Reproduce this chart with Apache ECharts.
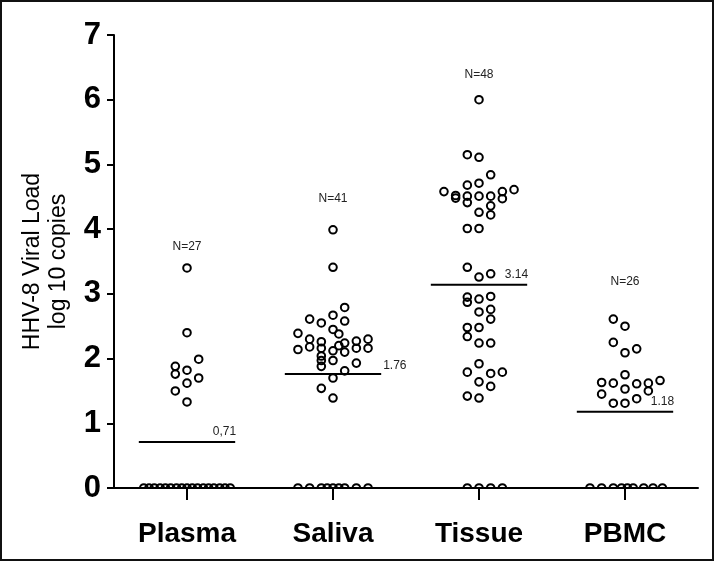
<!DOCTYPE html>
<html>
<head>
<meta charset="utf-8">
<script src="https://cdn.jsdelivr.net/npm/echarts@6/dist/echarts.min.js"></script>
<style>
html,body{margin:0;padding:0;background:#fff;}
#chart{width:716px;height:562px;}
</style>
</head>
<body>
<div id="chart"></div>
<script>
// ---- data ----
const categories = ['Plasma', 'Saliva', 'Tissue', 'PBMC'];
const groupN = [27, 41, 48, 26];
const nLabelY = [3.73, 4.47, 6.39, 3.19];
const medians = [0.71, 1.76, 3.14, 1.18];
const medianText = ['0,71', '1.76', '3.14', '1.18'];
const yTicks = [0, 1, 2, 3, 4, 5, 6, 7];

// each point: [log10 copies, beeswarm slot]
const plasma = [
  [3.40, 0], [2.40, 0], [1.99, 1], [1.88, -1], [1.82, 0], [1.76, -1], [1.70, 1], [1.62, 0], [1.50, -1], [1.33, 0],
  [0, -3.7], [0, -3.25], [0, -2.8], [0, -2.3], [0, -1.85], [0, -1.4], [0, -0.9], [0, -0.45], [0, 0],
  [0, 0.45], [0, 0.9], [0, 1.4], [0, 1.85], [0, 2.3], [0, 2.8], [0, 3.25], [0, 3.7]
];
const saliva = [
  [3.99, 0], [3.41, 0], [2.79, 1], [2.67, 0], [2.61, -2], [2.58, 1], [2.55, -1], [2.45, 0], [2.39, -3], [2.38, 0.5],
  [2.30, -2], [2.26, -1], [2.24, 1], [2.27, 2], [2.30, 3],
  [2.18, -2], [2.16, -1], [2.20, 0.5], [2.16, 2], [2.16, 3],
  [2.14, -3], [2.12, 0], [2.10, 1], [2.04, -1], [1.97, -1], [1.97, 0], [1.93, 2], [1.81, 1], [1.88, -1], [1.70, 0], [1.54, -1], [1.39, 0],
  [0, -3], [0, -2], [0, -1], [0, -0.5], [0, 0], [0, 0.5], [0, 1], [0, 2], [0, 3]
];
const tissue = [
  [6.00, 0], [5.15, -1], [5.11, 0], [4.84, 1], [4.68, -1], [4.71, 0], [4.58, -3], [4.61, 3], [4.52, -2], [4.48, -2],
  [4.51, -1], [4.41, -1], [4.51, 0], [4.51, 1], [4.36, 1], [4.22, 1], [4.58, 2], [4.47, 2], [4.26, 0], [4.01, -1],
  [4.01, 0], [3.41, -1], [3.26, 0], [3.31, 1],
  [2.95, -1], [2.87, -1], [2.92, 0], [2.96, 1], [2.72, 0], [2.76, 1], [2.61, 1], [2.48, -1], [2.48, 0], [2.34, -1],
  [2.24, 0], [2.24, 1], [1.92, 0], [1.79, -1], [1.77, 1], [1.79, 2], [1.64, 0], [1.57, 1], [1.42, -1], [1.39, 0],
  [0, -1], [0, 0], [0, 1], [0, 2]
];
const pbmc = [
  [2.61, -1], [2.50, 0], [2.25, -1], [2.09, 0], [2.15, 1], [1.75, 0], [1.63, -2], [1.62, -1], [1.53, 0], [1.61, 1],
  [1.62, 2], [1.50, 2], [1.66, 3], [1.45, -2], [1.38, 1], [1.31, -1], [1.31, 0],
  [0, -3], [0, -2], [0, -1], [0, -0.3], [0, 0.2], [0, 0.7], [0, 1.6], [0, 2.4], [0, 3.2]
];
const groups = [plasma, saliva, tissue, pbmc];

// ---- layout / style ----
const SLOT = 0.08;           // width of one beeswarm slot in category units
const HALF_LINE = 0.33;      // half width of the median bar in category units
const R = 3.8;               // marker radius
const medianLabelPlace = ['above', 'right', 'above', 'above'];
const FONT = 'Liberation Sans, Arial, sans-serif';
const NARROW = 'Liberation Sans Narrow, Liberation Sans, Arial, sans-serif';

const chart = echarts.init(document.getElementById('chart'), null, { renderer: 'canvas' });

const pointSeries = groups.map((g, gi) => ({
  type: 'custom',
  name: categories[gi],
  xAxisIndex: 1,
  yAxisIndex: 0,
  z: 3,
  data: g.map(p => [gi + p[1] * SLOT, p[0]]),
  renderItem: (params, api) => {
    const c = api.coord([api.value(0), api.value(1)]);
    const bottom = params.coordSys.y + params.coordSys.height;
    const d = bottom - c[1];
    const style = { fill: 'none', stroke: '#000', lineWidth: 2 };
    if (d < R) {
      // part of the marker falls below the plot area: draw only what is inside
      const a = Math.asin(Math.max(-1, Math.min(1, d / R)));
      return {
        type: 'arc',
        shape: { cx: c[0], cy: c[1], r: R, startAngle: Math.PI - a, endAngle: 2 * Math.PI + a, clockwise: true },
        style: style
      };
    }
    return { type: 'circle', shape: { cx: c[0], cy: c[1], r: R }, style: style };
  }
}));

const medianSeries = {
  type: 'custom',
  xAxisIndex: 1,
  yAxisIndex: 0,
  z: 4,
  data: medians.map((m, i) => [i, m]),
  renderItem: (params, api) => {
    const i = params.dataIndex;
    const x = api.value(0), y = api.value(1);
    const a = api.coord([x - HALF_LINE, y]);
    const b = api.coord([x + HALF_LINE, y]);
    const right = medianLabelPlace[i] === 'right';
    return {
      type: 'group',
      children: [
        { type: 'line', shape: { x1: a[0], y1: a[1], x2: b[0], y2: b[1] }, style: { stroke: '#000', lineWidth: 2 } },
        {
          type: 'text',
          x: right ? b[0] + 2 : b[0] + 1,
          y: right ? b[1] - 8 : b[1] - 10,
          style: {
            text: medianText[i], fill: '#222', font: '12px ' + NARROW,
            align: right ? 'left' : 'right', verticalAlign: 'middle'
          }
        }
      ]
    };
  }
};

const nSeries = {
  type: 'custom',
  xAxisIndex: 1,
  yAxisIndex: 0,
  z: 4,
  data: nLabelY.map((v, i) => [i, v]),
  renderItem: (params, api) => {
    const c = api.coord([api.value(0), api.value(1)]);
    return {
      type: 'text', x: c[0], y: c[1],
      style: { text: 'N=' + groupN[params.dataIndex], fill: '#222', font: '12px ' + NARROW, align: 'center', verticalAlign: 'middle' }
    };
  }
};

chart.setOption({
  animation: false,
  backgroundColor: '#fff',
  grid: { left: 114, right: 18, top: 35, bottom: 74 },
  xAxis: [
    {
      type: 'category', data: categories, boundaryGap: true,
      axisLine: { show: true, onZero: false, lineStyle: { color: '#000', width: 2 } },
      axisTick: { show: true, alignWithLabel: true, length: 12, lineStyle: { color: '#000', width: 2 } },
      axisLabel: { color: '#000', fontFamily: FONT, fontWeight: 'bold', fontSize: 28, margin: 32 },
      splitLine: { show: false }
    },
    {
      type: 'value', min: -0.5, max: 3.5, show: false
    }
  ],
  yAxis: {
    type: 'value', min: yTicks[0], max: yTicks[yTicks.length - 1], interval: 1,
    name: 'HHV-8 Viral Load\nlog 10 copies',
    nameLocation: 'middle', nameRotate: 90, nameGap: 42,
    nameTextStyle: { color: '#000', fontFamily: FONT, fontSize: 23, lineHeight: 26 },
    axisLine: { show: true, onZero: false, lineStyle: { color: '#000', width: 2 } },
    axisTick: { show: true, length: 7, lineStyle: { color: '#000', width: 2 } },
    axisLabel: { color: '#000', fontFamily: NARROW, fontWeight: 'bold', fontSize: 31, margin: 13, padding: [5, 0, 0, 0] },
    splitLine: { show: false }
  },
  graphic: [{
    type: 'rect', z: 100, silent: true,
    shape: { x: 1, y: 1, width: 712, height: 559 },
    style: { fill: 'none', stroke: '#111', lineWidth: 2 }
  }],
  series: [...pointSeries, medianSeries, nSeries]
});
</script>
</body>
</html>
